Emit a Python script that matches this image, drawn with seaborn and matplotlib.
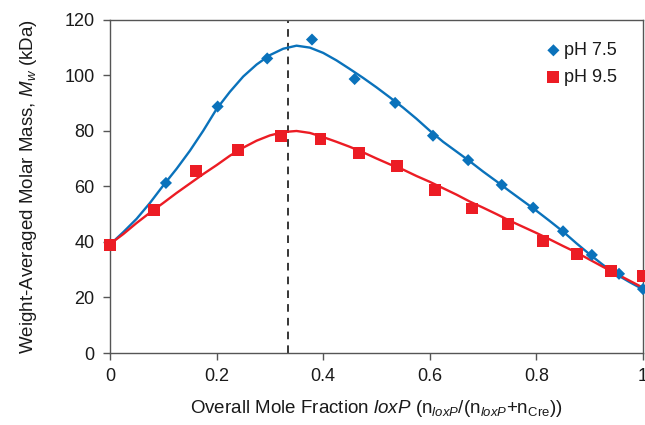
import matplotlib
matplotlib.use("Agg")
import matplotlib.pyplot as plt
import pandas as pd
import seaborn as sns

# Measured weight-averaged molar mass vs. overall loxP mole fraction
x_ph75 = [0.0, 0.105, 0.202, 0.295, 0.379, 0.459, 0.535, 0.606, 0.672, 0.735,
          0.794, 0.850, 0.904, 0.955, 1.0]
mw_ph75 = [39.0, 61.2, 88.7, 106.0, 112.8, 98.6, 90.0, 78.2, 69.4, 60.5,
           52.3, 43.8, 35.3, 28.5, 23.0]

x_ph95 = [0.0, 0.083, 0.162, 0.241, 0.320, 0.395, 0.468, 0.539, 0.610, 0.680,
          0.747, 0.812, 0.876, 0.940, 1.0]
mw_ph95 = [38.8, 51.6, 65.4, 72.9, 78.2, 77.1, 71.9, 67.4, 58.8, 52.0,
           46.4, 40.2, 35.6, 29.5, 27.7]

# Model fit curves, sampled every 0.025 in mole fraction
x_fit = [0.000, 0.025, 0.050, 0.075, 0.100, 0.125, 0.150, 0.175, 0.200, 0.225,
         0.250, 0.275, 0.300, 0.325, 0.350, 0.375, 0.400, 0.425, 0.450, 0.475,
         0.500, 0.525, 0.550, 0.575, 0.600, 0.625, 0.650, 0.675, 0.700, 0.725,
         0.750, 0.775, 0.800, 0.825, 0.850, 0.875, 0.900, 0.925, 0.950, 0.975,
         1.000]
fit_ph75 = [39.0, 43.5, 48.3, 54.0, 60.3, 66.3, 72.8, 80.0, 87.8, 94.0,
            99.5, 103.8, 107.2, 109.5, 110.6, 109.9, 108.0, 105.3, 102.2, 99.0,
            95.6, 92.0, 88.3, 84.3, 80.0, 76.0, 72.5, 69.0, 65.3, 61.8,
            58.2, 54.7, 51.2, 47.5, 43.7, 39.5, 35.5, 31.7, 28.3, 25.5,
            22.9]
fit_ph95 = [39.2, 42.8, 46.8, 50.5, 54.0, 57.6, 61.0, 64.4, 67.6, 71.0,
            73.9, 76.4, 78.3, 79.5, 79.9, 79.2, 77.7, 76.0, 74.2, 72.2,
            70.0, 67.9, 66.0, 63.7, 61.6, 59.3, 57.0, 54.5, 52.3, 50.0,
            47.6, 45.4, 43.2, 40.9, 38.5, 36.2, 33.6, 31.0, 28.5, 26.0,
            23.5]

stoich_x = 1 / 3

x_ticks = [0, 0.2, 0.4, 0.6, 0.8, 1.0]
x_tick_labels = ["0", "0.2", "0.4", "0.6", "0.8", "1"]
y_ticks = [0, 20, 40, 60, 80, 100, 120]

BLUE = "#0a72bb"
RED = "#ec1c24"

sns.set_style("ticks")
plt.rcParams["font.family"] = ["Liberation Sans", "DejaVu Sans"]
plt.rcParams["mathtext.fontset"] = "custom"
plt.rcParams["mathtext.rm"] = "Liberation Sans"
plt.rcParams["mathtext.it"] = "Liberation Sans:italic"

fit_df = pd.DataFrame({"x": x_fit, "pH 7.5": fit_ph75, "pH 9.5": fit_ph95})
pts75 = pd.DataFrame({"x": x_ph75, "mw": mw_ph75})
pts95 = pd.DataFrame({"x": x_ph95, "mw": mw_ph95})

fig = plt.figure(figsize=(6.45, 4.25), dpi=100)
ax = fig.add_axes([0.1705, 0.1694, 0.9969 - 0.1705, 0.954 - 0.1694])

ax.axvline(stoich_x, color="black", lw=1.1, ls=(0, (5, 4)), zorder=1)

sns.lineplot(data=fit_df, x="x", y="pH 7.5", color=BLUE, lw=1.7, ax=ax,
             legend=False, zorder=2)
sns.lineplot(data=fit_df, x="x", y="pH 9.5", color=RED, lw=1.7, ax=ax,
             legend=False, zorder=2)

sns.scatterplot(data=pts75, x="x", y="mw", marker="D", s=38, color=BLUE,
                edgecolor="none", ax=ax, label="pH 7.5", zorder=3, clip_on=False)
sns.scatterplot(data=pts95, x="x", y="mw", marker="s", s=74, color=RED,
                edgecolor="none", ax=ax, label="pH 9.5", zorder=4, clip_on=False)

ax.set_xlim(0, 1)
ax.set_ylim(0, 120)
ax.set_xticks(x_ticks)
ax.set_xticklabels(x_tick_labels)
ax.set_yticks(y_ticks)

ax.tick_params(axis="both", direction="out", length=5, width=1.0,
               color="#555555", labelsize=13, labelcolor="#1a1a1a", pad=6)
for sp in ax.spines.values():
    sp.set_color("#555555")
    sp.set_linewidth(1.0)

ax.set_xlabel(r"Overall Mole Fraction $\it{loxP}$ (n$_{\it{loxP}}$/(n$_{\it{loxP}}$+n$_{\rm{Cre}}$))",
              fontsize=13.5, color="#1a1a1a", labelpad=9)
ax.set_ylabel(r"Weight-Averaged Molar Mass, $M_w$ (kDa)",
              fontsize=13.5, color="#1a1a1a", labelpad=18)

leg = ax.legend(loc="upper right", bbox_to_anchor=(0.972, 0.965), frameon=False,
                fontsize=13, handletextpad=0.1, handlelength=1.0,
                labelspacing=0.55, borderaxespad=0.2)
for t in leg.get_texts():
    t.set_color("#1a1a1a")

fig.savefig("out.png", dpi=100)
